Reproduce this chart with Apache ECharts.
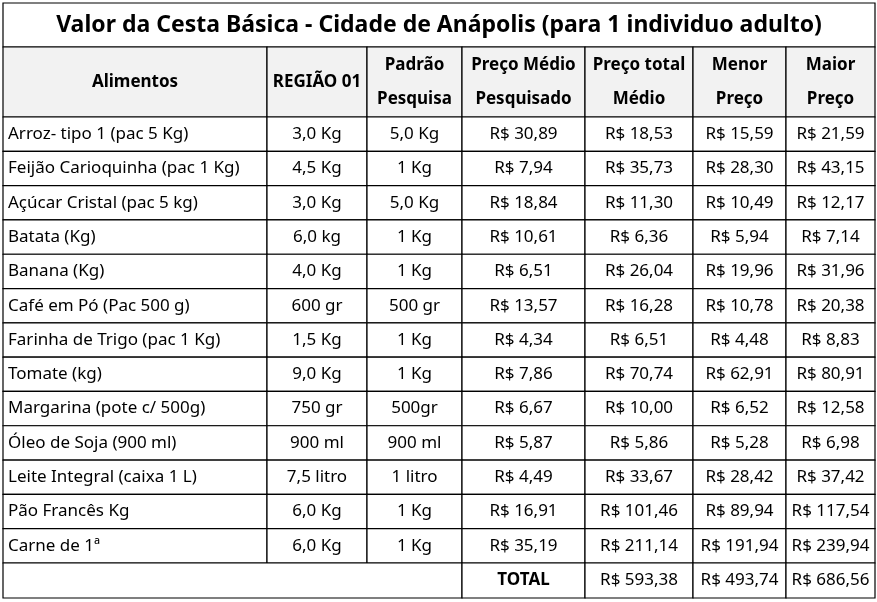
<!DOCTYPE html>
<html><head><meta charset="utf-8">
<script src="https://cdn.jsdelivr.net/npm/echarts@6/dist/echarts.min.js"></script>
<style>html,body{margin:0;padding:0;background:#fff}#c{width:877px;height:602px}</style>
</head><body><div id="c"></div>
<script>
const title = "Valor da Cesta Básica - Cidade de Anápolis (para 1 individuo adulto)";
const headers = ["Alimentos","REGIÃO 01","Padrão\nPesquisa","Preço Médio\nPesquisado","Preço total\nMédio","Menor\nPreço","Maior\nPreço"];
const foods = ["Arroz- tipo 1 (pac 5 Kg)","Feijão Carioquinha (pac 1 Kg)","Açúcar Cristal (pac 5 kg)","Batata (Kg)","Banana (Kg)","Café em Pó (Pac 500 g)","Farinha de Trigo (pac 1 Kg)","Tomate (kg)","Margarina (pote c/ 500g)","Óleo de Soja (900 ml)","Leite Integral (caixa 1 L)","Pão Francês Kg","Carne de 1ª"];
const regiao = ["3,0 Kg","4,5 Kg","3,0 Kg","6,0 kg","4,0 Kg","600 gr","1,5 Kg","9,0 Kg","750 gr","900 ml","7,5 litro","6,0 Kg","6,0 Kg"];
const padrao = ["5,0 Kg","1 Kg","5,0 Kg","1 Kg","1 Kg","500 gr","1 Kg","1 Kg","500gr","900 ml","1 litro","1 Kg","1 Kg"];
const precoMedio = ["R$ 30,89","R$ 7,94","R$ 18,84","R$ 10,61","R$ 6,51","R$ 13,57","R$ 4,34","R$ 7,86","R$ 6,67","R$ 5,87","R$ 4,49","R$ 16,91","R$ 35,19"];
const precoTotal = ["R$ 18,53","R$ 35,73","R$ 11,30","R$ 6,36","R$ 26,04","R$ 16,28","R$ 6,51","R$ 70,74","R$ 10,00","R$ 5,86","R$ 33,67","R$ 101,46","R$ 211,14"];
const menor = ["R$ 15,59","R$ 28,30","R$ 10,49","R$ 5,94","R$ 19,96","R$ 10,78","R$ 4,48","R$ 62,91","R$ 6,52","R$ 5,28","R$ 28,42","R$ 89,94","R$ 191,94"];
const maior = ["R$ 21,59","R$ 43,15","R$ 12,17","R$ 7,14","R$ 31,96","R$ 20,38","R$ 8,83","R$ 80,91","R$ 12,58","R$ 6,98","R$ 37,42","R$ 117,54","R$ 239,94"];
const totalLabel = "TOTAL";
const totals = ["R$ 593,38","R$ 493,74","R$ 686,56"];

// layout (axis units = pixels)
const colEdges = [3,267,367,462,585,693,786,875];
const titleTop = 3, headTop = 47, bodyTop = 117, bodyBottom = 563, tableBottom = 598;
const rowH = (bodyBottom - bodyTop) / foods.length;

const cells = [];
function add(x0,y0,x1,y1,text,opts){cells.push({value:[x0,y0,x1,y1],text:text,...opts});}
add(colEdges[0],titleTop,colEdges[7],headTop,title,{bold:true,size:23,align:'center'});
headers.forEach((h,i)=>add(colEdges[i],headTop,colEdges[i+1],bodyTop,h,{bold:true,size:17,align:'center',fill:'#f2f2f2',lh:34}));
const cols = [foods,regiao,padrao,precoMedio,precoTotal,menor,maior];
foods.forEach((f,r)=>{
  const y0 = bodyTop + r*rowH, y1 = y0+rowH;
  cols.forEach((arr,c)=>add(colEdges[c],y0,colEdges[c+1],y1,arr[r],{size:17,align:c===0?'left':'center'}));
});
add(colEdges[0],bodyBottom,colEdges[3],tableBottom,"",{});
add(colEdges[3],bodyBottom,colEdges[4],tableBottom,totalLabel,{bold:true,size:17,align:'center'});
totals.forEach((t,i)=>add(colEdges[4+i],bodyBottom,colEdges[5+i],tableBottom,t,{size:17,align:'center'}));

const chart = echarts.init(document.getElementById('c'));
chart.setOption({
  animation:false,
  grid:{left:3,right:2,top:3,bottom:4},
  xAxis:{type:'value',min:3,max:875,show:false},
  yAxis:{type:'value',min:3,max:598,inverse:true,show:false},
  series:[{
    type:'custom',
    data:cells,
    renderItem:function(params,api){
      const c = cells[params.dataIndex];
      const p0 = api.coord([api.value(0),api.value(1)]);
      const p1 = api.coord([api.value(2),api.value(3)]);
      const w = p1[0]-p0[0], h = p1[1]-p0[1];
      const left = c.align==='left';
      return {type:'group',children:[
        {type:'rect',shape:{x:p0[0],y:p0[1],width:w,height:h},style:{fill:c.fill||'#fff',stroke:'#000',lineWidth:1.2}},
        {type:'text',style:{text:c.text,x:left?p0[0]+5:p0[0]+w/2,y:p0[1]+h/2,align:left?'left':'center',verticalAlign:'middle',
          font:(c.bold?'bold ':'')+(c.size||17)+'px "Noto Sans", sans-serif',lineHeight:c.lh||20,fill:'#000'}}
      ]};
    }
  }]
});
</script></body></html>
